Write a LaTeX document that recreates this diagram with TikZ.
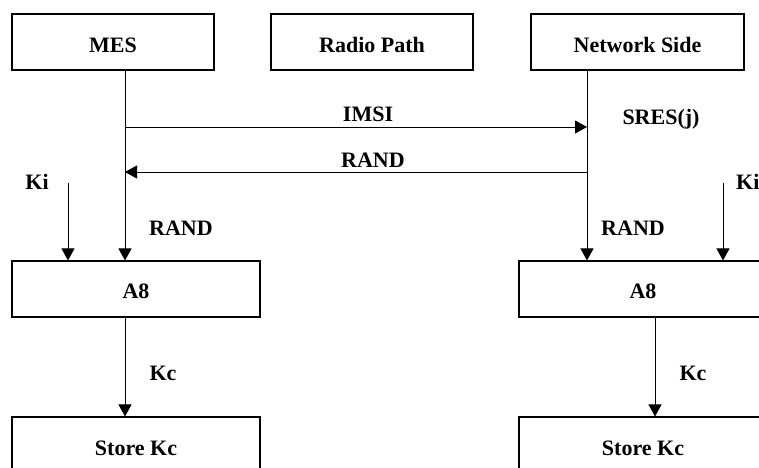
\documentclass[tikz,border=0pt]{standalone}
\usepackage{fontspec}
\setmainfont{Liberation Serif}
\usetikzlibrary{arrows.meta}
\begin{document}
\begin{tikzpicture}[x=1pt,y=-1pt,
  every node/.style={font=\fontsize{22}{26}\selectfont\bfseries, inner sep=0pt},
  box/.style={draw, line width=1.1pt, minimum height=56pt},
  lbl/.style={anchor=base},
  link/.style={line width=1pt},
  arr/.style={link, -{Triangle[length=12pt,width=13pt]}}]
\useasboundingbox (0,0) rectangle (759,467);
\clip (0,0) rectangle (759,467);

% top row: participants
\node[box, minimum width=202pt] (mes)   at (113,42)   {};
\node[box, minimum width=202pt] (radio) at (372,42)   {};
\node[box, minimum width=213pt] (net)   at (637.5,42) {};
\node[lbl] at (113,52)   {MES};
\node[lbl] at (372,52)   {Radio Path};
\node[lbl] at (637.5,52) {Network Side};

% A8 and storage blocks
\node[box, minimum width=248pt] (a8L)    at (136,289) {};
\node[box, minimum width=248pt] (a8R)    at (643,289) {};
\node[box, minimum width=248pt] (storeL) at (136,445) {};
\node[box, minimum width=248pt] (storeR) at (643,445) {};
\node[lbl] at (136,298) {A8};
\node[lbl] at (643,298) {A8};
\node[lbl] at (136,455) {Store Kc};
\node[lbl] at (643,455) {Store Kc};

% vertical positions of lifelines and inputs
\coordinate (mesX) at (125,0);
\coordinate (netX) at (587,0);
\coordinate (kiL)  at (68,183);
\coordinate (kiR)  at (723,183);
\coordinate (kcR)  at (655,0);
\coordinate (imsiA) at (125,127);
\coordinate (imsiB) at (587,127);
\coordinate (randA) at (587,172);
\coordinate (randB) at (125,172);

% lifelines down to the A8 blocks
\draw[arr] (mes.south -| mesX) -- (a8L.north -| mesX);
\draw[arr] (net.south -| netX) -- (a8R.north -| netX);

% message exchange
\draw[arr] (imsiA) -- (imsiB);
\draw[arr] (randA) -- (randB);
\node[lbl] at (368,121) {IMSI};
\node[lbl] at (661,124) {SRES(j)};
\node[lbl] at (373,167) {RAND};

% Ki inputs
\draw[arr] (kiL) -- (a8L.north -| kiL);
\draw[arr] (kiR) -- (a8R.north -| kiR);
\node[lbl] at (37,189) {Ki};
\node[lbl, anchor=base west] at (736,189) {Ki};
\node[lbl] at (181,235) {RAND};
\node[lbl] at (633,235) {RAND};

% Kc outputs
\draw[arr] (a8L.south -| mesX) -- (storeL.north -| mesX);
\draw[arr] (a8R.south -| kcR) -- (storeR.north -| kcR);
\node[lbl] at (163,380) {Kc};
\node[lbl] at (693,380) {Kc};
\end{tikzpicture}
\end{document}
